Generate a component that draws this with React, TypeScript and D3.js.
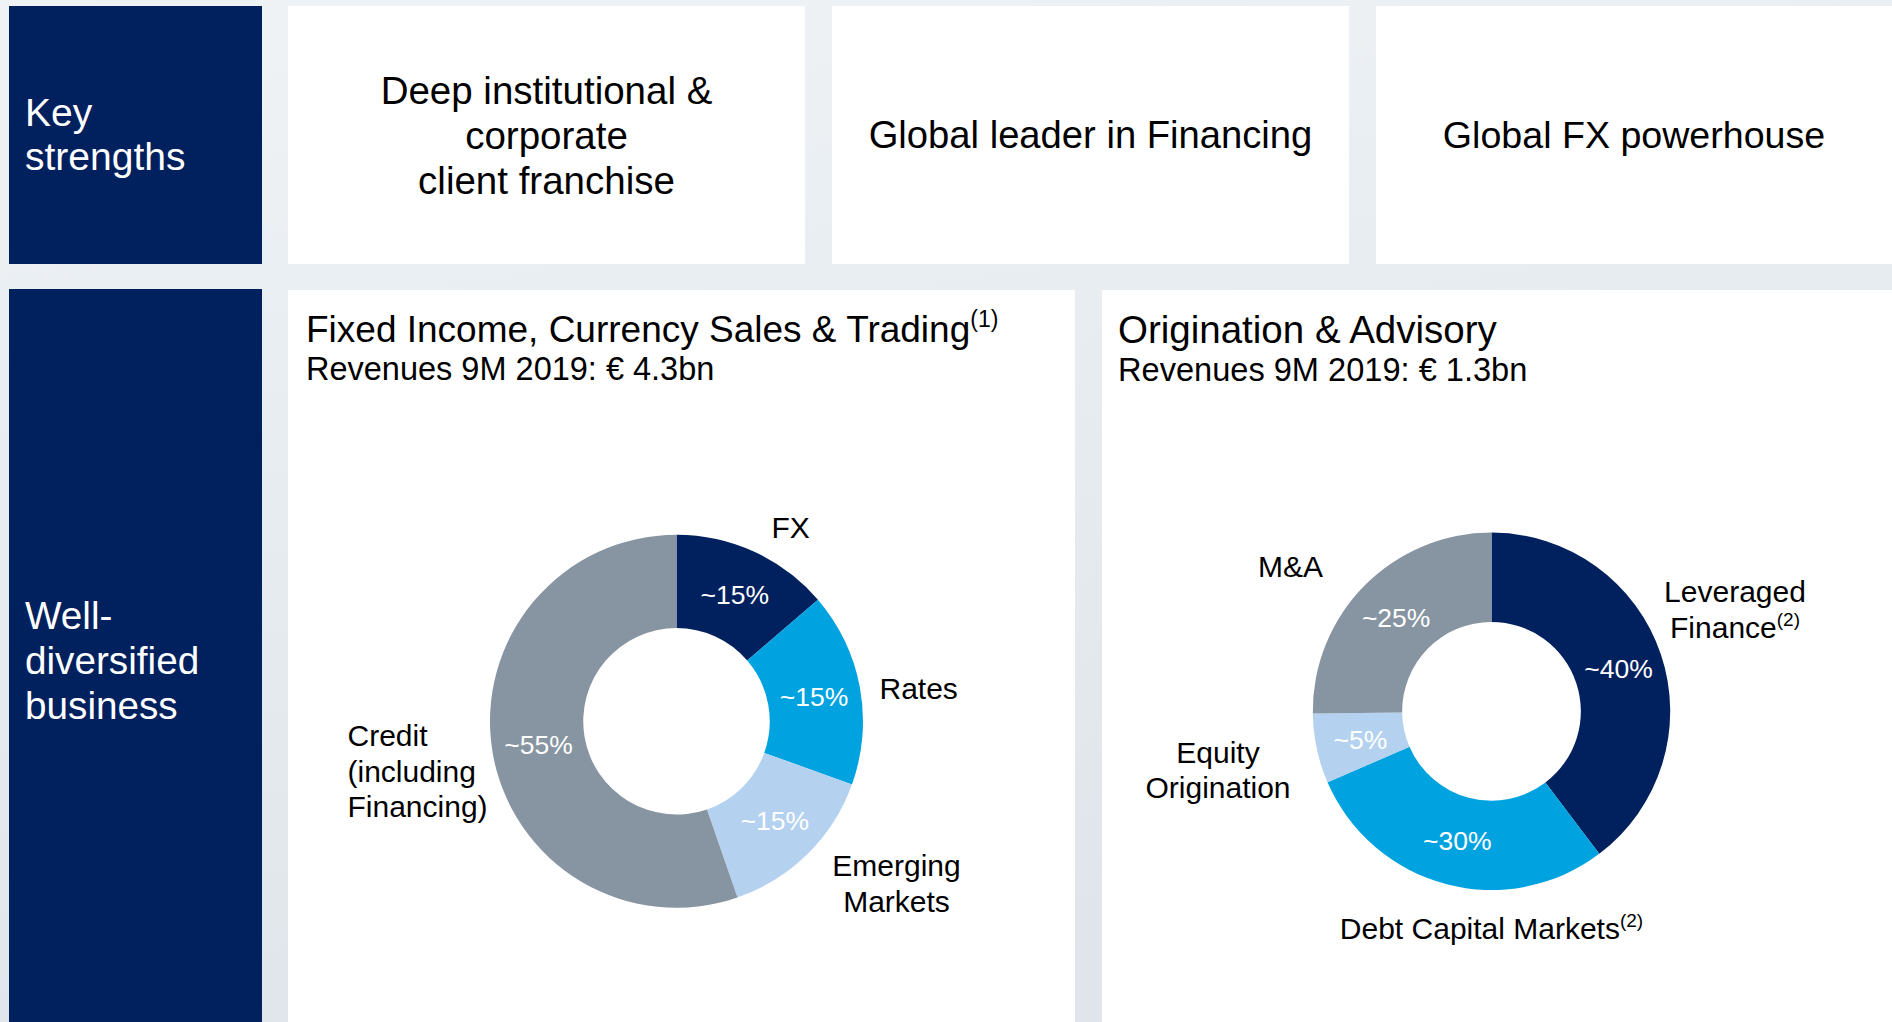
import React from "react";
import * as d3 from "d3";

// ---------- data ----------
const strengthTitle = ["Key", "strengths"];
const strengths = [
  ["Deep institutional &", "corporate", "client franchise"],
  ["Global leader in Financing"],
  ["Global FX powerhouse"],
];
const businessTitle = ["Well-", "diversified", "business"];

const fxTitle = "Fixed Income, Currency Sales & Trading";
const fxTitleNote = "(1)";
const fxSubtitle = "Revenues 9M 2019: € 4.3bn";
const fxCategories = ["FX", "Rates", "Emerging Markets", "Credit (including Financing)"];
const fxValues = [13.7, 16.8, 14.2, 55.3];
const fxShareLabels = ["~15%", "~15%", "~15%", "~55%"];

const oaTitle = "Origination & Advisory";
const oaSubtitle = "Revenues 9M 2019: € 1.3bn";
const oaCategories = ["Leveraged Finance", "Debt Capital Markets", "Equity Origination", "M&A"];
const oaValues = [39.7, 28.8, 6.3, 25.2];
const oaShareLabels = ["~40%", "~30%", "~5%", "~25%"];
const oaNotes = ["(2)", "(2)", "", ""];

// ---------- styles / layout ----------
const W = 1892;
const H = 1022;
const FONT = "'Liberation Sans', Arial, sans-serif";
const NAVY = "#01205e";
const fxColors = ["#01205e", "#00a3e0", "#b4d2f0", "#8794a1"];
const oaColors = ["#01205e", "#00a3e0", "#b4d2f0", "#8794a1"];

// label line layouts relative to donut centre
const fxLabelLayout = [
  { dx: 95, dy: -183, anchor: "start", lines: ["FX"] },
  { dx: 203, dy: -22, anchor: "start", lines: ["Rates"] },
  { dx: 220, dy: 155, anchor: "middle", lines: ["Emerging", "Markets"] },
  { dx: -329, dy: 25, anchor: "start", lines: ["Credit", "(including", "Financing)"] },
];
const oaLabelLayout = [
  { dx: 243.5, dy: -109.6, anchor: "middle", lines: ["Leveraged", "Finance"], lh: 36.6 },
  { dx: 0, dy: 228, anchor: "middle", lines: ["Debt Capital Markets"], lh: 36 },
  { dx: -273.5, dy: 52, anchor: "middle", lines: ["Equity", "Origination"], lh: 35 },
  { dx: -233.5, dy: -134.6, anchor: "start", lines: ["M&A"], lh: 36 },
];

type Layout = { dx: number; dy: number; anchor: string; lines: string[]; lh?: number };

function Donut({
  cx,
  cy,
  outer,
  values,
  colors,
  shares,
  layout,
  notes,
}: {
  cx: number;
  cy: number;
  outer: number;
  values: number[];
  colors: string[];
  shares: string[];
  layout: Layout[];
  notes?: string[];
}) {
  const pie = d3
    .pie<number>()
    .sort(null)
    .value((d) => d)
    .startAngle(0)
    .endAngle(2 * Math.PI);
  const arcs = pie(values);
  const arc = d3
    .arc<d3.PieArcDatum<number>>()
    .innerRadius(outer * 0.5)
    .outerRadius(outer);
  return (
    <g transform={`translate(${cx},${cy})`}>
      {arcs.map((a, i) => (
        <path key={"s" + i} d={arc(a) || ""} fill={colors[i]} />
      ))}
      {arcs.map((a, i) => {
        const [x, y] = arc.centroid(a);
        return (
          <text
            key={"p" + i}
            x={x}
            y={y}
            dy="0.36em"
            textAnchor="middle"
            fill="#ffffff"
            fontSize={26.5}
            fontFamily={FONT}
          >
            {shares[i]}
          </text>
        );
      })}
      {layout.map((l, i) => {
        const lh = l.lh ?? 35.5;
        return (
          <text
            key={"l" + i}
            textAnchor={l.anchor as any}
            fill="#000"
            fontSize={30}
            fontFamily={FONT}
          >
            {l.lines.map((ln, j) => (
              <tspan key={j} x={l.dx} y={l.dy + j * lh}>
                {ln}
                {notes && notes[i] && j === l.lines.length - 1 ? (
                  <tspan fontSize={19} dy={-12}>
                    {notes[i]}
                  </tspan>
                ) : null}
              </tspan>
            ))}
          </text>
        );
      })}
    </g>
  );
}

export default function App() {
  const boxes = [
    { x: 288, w: 517, size: 38.5 },
    { x: 832, w: 517, size: 38.2 },
    { x: 1376, w: 520, size: 37.6 },
  ];
  const boxBaselines = [[104.4, 149.4, 194.4], [148], [148]];
  return (
    <svg
      width={W}
      height={H}
      viewBox={`0 0 ${W} ${H}`}
      style={{ position: "absolute", left: 0, top: 0, display: "block" }}
    >
      <defs>
        <linearGradient id="bg" x1="0" y1="0" x2="0.3" y2="1">
          <stop offset="0" stopColor="#eff3f6" />
          <stop offset="1" stopColor="#dfe5ea" />
        </linearGradient>
      </defs>
      <rect x={0} y={0} width={W} height={H} fill="url(#bg)" />

      {/* Row 1 */}
      <rect x={9} y={6} width={253} height={258} fill={NAVY} />
      {strengthTitle.map((t, i) => (
        <text key={t} x={25} y={126 + i * 43.5} fill="#fff" fontSize={39} fontFamily={FONT}>
          {t}
        </text>
      ))}
      {boxes.map((b, i) => (
        <g key={"b" + i}>
          <rect x={b.x} y={6} width={b.w} height={258} fill="#fff" />
          {strengths[i].map((ln, j) => (
            <text
              key={j}
              x={i === 2 ? 1634 : b.x + b.w / 2}
              y={boxBaselines[i][j]}
              textAnchor="middle"
              fill="#000"
              fontSize={b.size}
              fontFamily={FONT}
            >
              {ln}
            </text>
          ))}
        </g>
      ))}

      {/* Row 2 */}
      <rect x={9} y={289} width={253} height={H - 289} fill={NAVY} />
      {businessTitle.map((t, i) => (
        <text key={t} x={25} y={629 + i * 45} fill="#fff" fontSize={38.7} fontFamily={FONT}>
          {t}
        </text>
      ))}

      <rect x={288} y={290} width={787} height={H - 290} fill="#fff" />
      <rect x={1102} y={290} width={W - 1102} height={H - 290} fill="#fff" />

      <text x={306} y={342} fill="#000" fontSize={37} fontFamily={FONT}>
        {fxTitle}
        <tspan fontSize={23} dy={-15}>
          {fxTitleNote}
        </tspan>
      </text>
      <text x={306} y={380} fill="#000" fontSize={32.5} fontFamily={FONT}>
        {fxSubtitle}
      </text>

      <text x={1118} y={343} fill="#000" fontSize={38.5} fontFamily={FONT}>
        {oaTitle}
      </text>
      <text x={1118} y={381} fill="#000" fontSize={32.6} fontFamily={FONT}>
        {oaSubtitle}
      </text>

      <Donut
        cx={676.5}
        cy={721.3}
        outer={186.5}
        values={fxValues}
        colors={fxColors}
        shares={fxShareLabels}
        layout={fxLabelLayout}
      />
      <Donut
        cx={1491.5}
        cy={711.3}
        outer={178.7}
        values={oaValues}
        colors={oaColors}
        shares={oaShareLabels}
        layout={oaLabelLayout}
        notes={oaNotes}
      />
      <desc>{fxCategories.join(", ") + " | " + oaCategories.join(", ")}</desc>
    </svg>
  );
}
